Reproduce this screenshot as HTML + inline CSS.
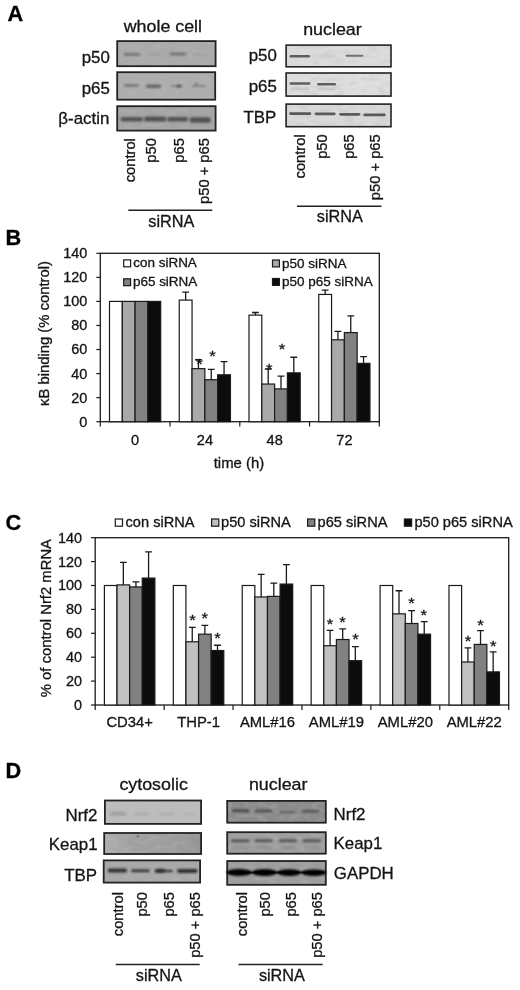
<!DOCTYPE html>
<html><head><meta charset="utf-8"><title>Figure</title>
<style>html,body{margin:0;padding:0;background:#fff;}svg{display:block;will-change:transform;}text{font-family:"Liberation Sans",sans-serif;}</style>
</head><body>
<svg width="520" height="990" viewBox="0 0 520 990">
<defs>
<filter id="b0" x="-20%" y="-150%" width="140%" height="400%"><feGaussianBlur stdDeviation="0.6"/></filter>
<filter id="b1" x="-20%" y="-150%" width="140%" height="400%"><feGaussianBlur stdDeviation="0.9"/></filter>
<filter id="b2" x="-20%" y="-150%" width="140%" height="400%"><feGaussianBlur stdDeviation="1.5"/></filter>
<filter id="gr" x="0" y="0" width="100%" height="100%"><feTurbulence type="fractalNoise" baseFrequency="0.09 0.22" numOctaves="2" seed="7" result="t"/><feColorMatrix in="t" type="matrix" values="0 0 0 0 0.5  0 0 0 0 0.5  0 0 0 0 0.5  0 0 0 2.2 -0.95"/></filter>
<linearGradient id="lg" x1="0" y1="0" x2="1" y2="0"><stop offset="0" stop-color="#fff" stop-opacity="0.16"/><stop offset="0.5" stop-color="#888" stop-opacity="0"/><stop offset="1" stop-color="#000" stop-opacity="0.07"/></linearGradient>
</defs>
<rect x="0" y="0" width="520" height="990" fill="#ffffff"/>
<g opacity="0.999">
<text transform="translate(7.6,21.0) scale(1.02,1)" font-size="21.3" font-weight="bold" fill="#000" stroke="#000" stroke-width="0.3">A</text>
<text transform="translate(5.5,245.2) scale(1.02,1)" font-size="21.3" font-weight="bold" fill="#000" stroke="#000" stroke-width="0.3">B</text>
<text transform="translate(5.6,530.0) scale(1.02,1)" font-size="21.3" font-weight="bold" fill="#000" stroke="#000" stroke-width="0.3">C</text>
<text transform="translate(5.5,777.5) scale(1.02,1)" font-size="21.3" font-weight="bold" fill="#000" stroke="#000" stroke-width="0.3">D</text>
<text transform="translate(123.7,31.8) scale(1.05,1)" font-size="17" fill="#141414" stroke="#141414" stroke-width="0.3">whole cell</text>
<text transform="translate(303.2,35.4) scale(1.05,1)" font-size="17" fill="#141414" stroke="#141414" stroke-width="0.3">nuclear</text>
<rect x="117.2" y="41.1" width="98.4" height="25.1" fill="#aaaaaa"/>
<rect x="117.2" y="41.1" width="98.4" height="25.1" filter="url(#gr)" opacity="0.4"/>
<rect x="117.2" y="41.1" width="98.4" height="25.1" fill="none" stroke="#222" stroke-width="1.8"/>
<rect x="117.2" y="72.2" width="98.0" height="27.5" fill="#adadad"/>
<rect x="117.2" y="72.2" width="98.0" height="27.5" filter="url(#gr)" opacity="0.4"/>
<rect x="117.2" y="72.2" width="98.0" height="27.5" fill="none" stroke="#222" stroke-width="1.8"/>
<rect x="117.2" y="106.2" width="98.4" height="24.4" fill="#a4a4a4"/>
<rect x="117.2" y="106.2" width="98.4" height="24.4" filter="url(#gr)" opacity="0.4"/>
<rect x="117.2" y="106.2" width="98.4" height="24.4" fill="none" stroke="#222" stroke-width="1.8"/>
<rect x="123.8" y="53.0" width="16.4" height="2.8" rx="1.4" fill="#5e5e5e" opacity="0.72" filter="url(#b1)"/>
<rect x="148" y="53.5" width="13" height="2.2" rx="1.1" fill="#888" opacity="0.5" filter="url(#b1)"/>
<rect x="169.6" y="52.6" width="16.6" height="2.8" rx="1.4" fill="#5e5e5e" opacity="0.72" filter="url(#b1)"/>
<rect x="193" y="53.6" width="14" height="2.0" rx="1.0" fill="#8e8e8e" opacity="0.4" filter="url(#b1)"/>
<rect x="124" y="84.5" width="15" height="2.0" rx="1.0" fill="#4e4e4e" opacity="0.75" filter="url(#b1)"/>
<rect x="146" y="84.7" width="15" height="3.0" rx="1.5" fill="#484848" opacity="0.8" filter="url(#b1)"/>
<rect x="170" y="85.2" width="13" height="1.6" rx="0.8" fill="#5a5a5a" opacity="0.6" filter="url(#b1)"/>
<rect x="176.5" y="84.8" width="4.5" height="2.4" rx="1.2" fill="#383838" opacity="0.75" filter="url(#b1)"/>
<rect x="192" y="85.2" width="13.5" height="1.6" rx="0.8" fill="#5a5a5a" opacity="0.65" filter="url(#b1)"/>
<rect x="195.3" y="82.8" width="2.3" height="2.4" rx="1.2" fill="#4c4c4c" opacity="0.65" filter="url(#b1)"/>
<rect x="120.5" y="117.1" width="22.7" height="4.4" rx="2.2" fill="#4c4c4c" opacity="0.9" filter="url(#b1)"/>
<rect x="144.0" y="116.4" width="22.2" height="5.2" rx="2.6" fill="#484848" opacity="0.9" filter="url(#b1)"/>
<rect x="167.0" y="117.0" width="21.2" height="4.6" rx="2.3" fill="#4c4c4c" opacity="0.9" filter="url(#b1)"/>
<rect x="189.6" y="117.3" width="21.2" height="5.4" rx="2.7" fill="#484848" opacity="0.9" filter="url(#b1)"/>
<text transform="translate(109.8,62.8) scale(1.03,1)" font-size="16.4" text-anchor="end" fill="#141414" stroke="#141414" stroke-width="0.3">p50</text>
<text transform="translate(109.8,93.7) scale(1.03,1)" font-size="16.4" text-anchor="end" fill="#141414" stroke="#141414" stroke-width="0.3">p65</text>
<text transform="translate(109.3,123.5) scale(1.03,1)" font-size="16.4" text-anchor="end" fill="#141414" stroke="#141414" stroke-width="0.3">β-actin</text>
<text transform="translate(134.9,138.1) rotate(-90) scale(1.03,1)" font-size="14.3" text-anchor="end" fill="#141414" stroke="#141414" stroke-width="0.3">control</text>
<text transform="translate(156.3,138.1) rotate(-90) scale(1.03,1)" font-size="14.3" text-anchor="end" fill="#141414" stroke="#141414" stroke-width="0.3">p50</text>
<text transform="translate(183.5,138.1) rotate(-90) scale(1.03,1)" font-size="14.3" text-anchor="end" fill="#141414" stroke="#141414" stroke-width="0.3">p65</text>
<text transform="translate(209.4,138.1) rotate(-90) scale(1.03,1)" font-size="14.3" text-anchor="end" fill="#141414" stroke="#141414" stroke-width="0.3">p50 + p65</text>
<line x1="128.3" y1="210.3" x2="212.3" y2="210.3" stroke="#222" stroke-width="1.4"/>
<text transform="translate(171.3,226.7) scale(1.03,1)" font-size="15.8" text-anchor="middle" fill="#141414" stroke="#141414" stroke-width="0.3">siRNA</text>
<rect x="286.1" y="45.1" width="104.9" height="21.7" fill="#dcdcdc"/>
<rect x="286.1" y="45.1" width="104.9" height="21.7" filter="url(#gr)" opacity="0.4"/>
<rect x="286.1" y="45.1" width="104.9" height="21.7" fill="none" stroke="#222" stroke-width="1.6"/>
<rect x="286.1" y="73.0" width="104.9" height="23.1" fill="#dedede"/>
<rect x="286.1" y="73.0" width="104.9" height="23.1" filter="url(#gr)" opacity="0.4"/>
<rect x="286.1" y="73.0" width="104.9" height="23.1" fill="none" stroke="#222" stroke-width="1.6"/>
<rect x="286.1" y="104.1" width="104.9" height="22.6" fill="#d9d9d9"/>
<rect x="286.1" y="104.1" width="104.9" height="22.6" filter="url(#gr)" opacity="0.4"/>
<rect x="286.1" y="104.1" width="104.9" height="22.6" fill="none" stroke="#222" stroke-width="1.6"/>
<rect x="289.5" y="55.1" width="20.5" height="2.4" rx="1.2" fill="#484848" opacity="0.85" filter="url(#b0)"/>
<rect x="319" y="55.3" width="17" height="1.8" rx="0.9" fill="#aaa" opacity="0.5" filter="url(#b1)"/>
<rect x="345.5" y="54.8" width="17.9" height="2.0" rx="1.0" fill="#585858" opacity="0.8" filter="url(#b0)"/>
<rect x="289.5" y="82.35" width="21.0" height="2.3" rx="1.15" fill="#4a4a4a" opacity="0.85" filter="url(#b0)"/>
<rect x="290" y="87.8" width="20" height="2" rx="1.0" fill="#aaa" opacity="0.6" filter="url(#b1)"/>
<rect x="317" y="83.05" width="19" height="2.5" rx="1.25" fill="#4a4a4a" opacity="0.85" filter="url(#b0)"/>
<rect x="318" y="88.0" width="17" height="2" rx="1.0" fill="#b0b0b0" opacity="0.6" filter="url(#b1)"/>
<rect x="289.2" y="112.3" width="22.0" height="2.8" rx="1.4" fill="#484848" opacity="0.88" filter="url(#b0)"/>
<rect x="314.6" y="112.5" width="21.0" height="2.8" rx="1.4" fill="#484848" opacity="0.88" filter="url(#b0)"/>
<rect x="339.2" y="112.9" width="21.0" height="2.8" rx="1.4" fill="#484848" opacity="0.88" filter="url(#b0)"/>
<rect x="363.4" y="113.5" width="22.3" height="2.8" rx="1.4" fill="#484848" opacity="0.88" filter="url(#b0)"/>
<text transform="translate(276.8,60.7) scale(1.03,1)" font-size="16.4" text-anchor="end" fill="#141414" stroke="#141414" stroke-width="0.3">p50</text>
<text transform="translate(276.8,91.9) scale(1.03,1)" font-size="16.4" text-anchor="end" fill="#141414" stroke="#141414" stroke-width="0.3">p65</text>
<text transform="translate(276.2,122.7) scale(1.03,1)" font-size="16.4" text-anchor="end" fill="#141414" stroke="#141414" stroke-width="0.3">TBP</text>
<text transform="translate(304.6,134.3) rotate(-90) scale(1.03,1)" font-size="14.3" text-anchor="end" fill="#141414" stroke="#141414" stroke-width="0.3">control</text>
<text transform="translate(327.0,134.3) rotate(-90) scale(1.03,1)" font-size="14.3" text-anchor="end" fill="#141414" stroke="#141414" stroke-width="0.3">p50</text>
<text transform="translate(353.8,134.3) rotate(-90) scale(1.03,1)" font-size="14.3" text-anchor="end" fill="#141414" stroke="#141414" stroke-width="0.3">p65</text>
<text transform="translate(379.6,134.3) rotate(-90) scale(1.03,1)" font-size="14.3" text-anchor="end" fill="#141414" stroke="#141414" stroke-width="0.3">p50 + p65</text>
<line x1="297" y1="206.2" x2="381.5" y2="206.2" stroke="#222" stroke-width="1.4"/>
<text transform="translate(339.8,222.4) scale(1.03,1)" font-size="15.8" text-anchor="middle" fill="#141414" stroke="#141414" stroke-width="0.3">siRNA</text>
<rect x="100.3" y="253.3" width="279.0" height="168.4" fill="#fff" stroke="#1a1a1a" stroke-width="1.3"/>
<line x1="96.3" y1="421.70" x2="100.3" y2="421.70" stroke="#1a1a1a" stroke-width="1.2"/>
<text transform="translate(87.2,426.63) scale(1.03,1)" font-size="14.0" text-anchor="end" fill="#141414" stroke="#141414" stroke-width="0.3">0</text>
<line x1="96.3" y1="397.64" x2="100.3" y2="397.64" stroke="#1a1a1a" stroke-width="1.2"/>
<text transform="translate(87.2,402.57) scale(1.03,1)" font-size="14.0" text-anchor="end" fill="#141414" stroke="#141414" stroke-width="0.3">20</text>
<line x1="96.3" y1="373.59" x2="100.3" y2="373.59" stroke="#1a1a1a" stroke-width="1.2"/>
<text transform="translate(87.2,378.51) scale(1.03,1)" font-size="14.0" text-anchor="end" fill="#141414" stroke="#141414" stroke-width="0.3">40</text>
<line x1="96.3" y1="349.53" x2="100.3" y2="349.53" stroke="#1a1a1a" stroke-width="1.2"/>
<text transform="translate(87.2,354.46) scale(1.03,1)" font-size="14.0" text-anchor="end" fill="#141414" stroke="#141414" stroke-width="0.3">60</text>
<line x1="96.3" y1="325.47" x2="100.3" y2="325.47" stroke="#1a1a1a" stroke-width="1.2"/>
<text transform="translate(87.2,330.4) scale(1.03,1)" font-size="14.0" text-anchor="end" fill="#141414" stroke="#141414" stroke-width="0.3">80</text>
<line x1="96.3" y1="301.41" x2="100.3" y2="301.41" stroke="#1a1a1a" stroke-width="1.2"/>
<text transform="translate(87.2,306.34) scale(1.03,1)" font-size="14.0" text-anchor="end" fill="#141414" stroke="#141414" stroke-width="0.3">100</text>
<line x1="96.3" y1="277.36" x2="100.3" y2="277.36" stroke="#1a1a1a" stroke-width="1.2"/>
<text transform="translate(87.2,282.29) scale(1.03,1)" font-size="14.0" text-anchor="end" fill="#141414" stroke="#141414" stroke-width="0.3">120</text>
<line x1="96.3" y1="253.30" x2="100.3" y2="253.30" stroke="#1a1a1a" stroke-width="1.2"/>
<text transform="translate(87.2,258.23) scale(1.03,1)" font-size="14.0" text-anchor="end" fill="#141414" stroke="#141414" stroke-width="0.3">140</text>
<line x1="100.30" y1="421.7" x2="100.30" y2="426.5" stroke="#1a1a1a" stroke-width="1.2"/>
<line x1="170.05" y1="421.7" x2="170.05" y2="426.5" stroke="#1a1a1a" stroke-width="1.2"/>
<line x1="239.80" y1="421.7" x2="239.80" y2="426.5" stroke="#1a1a1a" stroke-width="1.2"/>
<line x1="309.55" y1="421.7" x2="309.55" y2="426.5" stroke="#1a1a1a" stroke-width="1.2"/>
<line x1="379.30" y1="421.7" x2="379.30" y2="426.5" stroke="#1a1a1a" stroke-width="1.2"/>
<rect x="109.50" y="301.41" width="12.80" height="120.29" fill="#ffffff" stroke="#1a1a1a" stroke-width="1.2"/>
<rect x="122.30" y="301.41" width="12.80" height="120.29" fill="#a9a9a9" stroke="#1a1a1a" stroke-width="1.2"/>
<rect x="135.10" y="301.41" width="12.80" height="120.29" fill="#818181" stroke="#1a1a1a" stroke-width="1.2"/>
<rect x="147.90" y="301.41" width="12.80" height="120.29" fill="#0c0c0c" stroke="#1a1a1a" stroke-width="1.2"/>
<text transform="translate(135.18,445) scale(1.03,1)" font-size="14.2" text-anchor="middle" fill="#141414" stroke="#141414" stroke-width="0.3">0</text>
<path d="M185.65 300.09V292.15M182.25 292.15H189.05" stroke="#1a1a1a" stroke-width="1.3" fill="none"/>
<rect x="179.25" y="300.09" width="12.80" height="121.61" fill="#ffffff" stroke="#1a1a1a" stroke-width="1.2"/>
<path d="M198.45 368.65V359.75M195.05 359.75H201.85" stroke="#1a1a1a" stroke-width="1.3" fill="none"/>
<rect x="192.05" y="368.65" width="12.80" height="53.05" fill="#a9a9a9" stroke="#1a1a1a" stroke-width="1.2"/>
<text transform="translate(199.6,368.68) scale(1.08,1)" font-size="15.5" text-anchor="middle" fill="#141414" stroke="#141414" stroke-width="0.3">*</text>
<path d="M211.25 379.72V369.38M207.85 369.38H214.65" stroke="#1a1a1a" stroke-width="1.3" fill="none"/>
<rect x="204.85" y="379.72" width="12.80" height="41.98" fill="#818181" stroke="#1a1a1a" stroke-width="1.2"/>
<text transform="translate(212.4,361.28) scale(1.08,1)" font-size="15.5" text-anchor="middle" fill="#141414" stroke="#141414" stroke-width="0.3">*</text>
<path d="M224.05 374.79V361.56M220.65 361.56H227.45" stroke="#1a1a1a" stroke-width="1.3" fill="none"/>
<rect x="217.65" y="374.79" width="12.80" height="46.91" fill="#0c0c0c" stroke="#1a1a1a" stroke-width="1.2"/>
<text transform="translate(204.93,445) scale(1.03,1)" font-size="14.2" text-anchor="middle" fill="#141414" stroke="#141414" stroke-width="0.3">24</text>
<path d="M255.40 315.13V312.48M252.00 312.48H258.80" stroke="#1a1a1a" stroke-width="1.3" fill="none"/>
<rect x="249.00" y="315.13" width="12.80" height="106.57" fill="#ffffff" stroke="#1a1a1a" stroke-width="1.2"/>
<path d="M268.20 384.05V369.01M264.80 369.01H271.60" stroke="#1a1a1a" stroke-width="1.3" fill="none"/>
<rect x="261.80" y="384.05" width="12.80" height="37.65" fill="#a9a9a9" stroke="#1a1a1a" stroke-width="1.2"/>
<text transform="translate(269.2,373.98) scale(1.08,1)" font-size="15.5" text-anchor="middle" fill="#141414" stroke="#141414" stroke-width="0.3">*</text>
<path d="M281.00 388.86V376.11M277.60 376.11H284.40" stroke="#1a1a1a" stroke-width="1.3" fill="none"/>
<rect x="274.60" y="388.86" width="12.80" height="32.84" fill="#818181" stroke="#1a1a1a" stroke-width="1.2"/>
<text transform="translate(281.9,353.98) scale(1.08,1)" font-size="15.5" text-anchor="middle" fill="#141414" stroke="#141414" stroke-width="0.3">*</text>
<path d="M293.80 372.86V357.23M290.40 357.23H297.20" stroke="#1a1a1a" stroke-width="1.3" fill="none"/>
<rect x="287.40" y="372.86" width="12.80" height="48.84" fill="#0c0c0c" stroke="#1a1a1a" stroke-width="1.2"/>
<text transform="translate(274.68,445) scale(1.03,1)" font-size="14.2" text-anchor="middle" fill="#141414" stroke="#141414" stroke-width="0.3">48</text>
<path d="M325.15 294.44V290.11M321.75 290.11H328.55" stroke="#1a1a1a" stroke-width="1.3" fill="none"/>
<rect x="318.75" y="294.44" width="12.80" height="127.26" fill="#ffffff" stroke="#1a1a1a" stroke-width="1.2"/>
<path d="M337.95 339.79V331.37M334.55 331.37H341.35" stroke="#1a1a1a" stroke-width="1.3" fill="none"/>
<rect x="331.55" y="339.79" width="12.80" height="81.91" fill="#a9a9a9" stroke="#1a1a1a" stroke-width="1.2"/>
<path d="M350.75 332.57V315.97M347.35 315.97H354.15" stroke="#1a1a1a" stroke-width="1.3" fill="none"/>
<rect x="344.35" y="332.57" width="12.80" height="89.13" fill="#818181" stroke="#1a1a1a" stroke-width="1.2"/>
<path d="M363.55 363.36V356.63M360.15 356.63H366.95" stroke="#1a1a1a" stroke-width="1.3" fill="none"/>
<rect x="357.15" y="363.36" width="12.80" height="58.34" fill="#0c0c0c" stroke="#1a1a1a" stroke-width="1.2"/>
<text transform="translate(344.43,445) scale(1.03,1)" font-size="14.2" text-anchor="middle" fill="#141414" stroke="#141414" stroke-width="0.3">72</text>
<text transform="translate(239,467.5) scale(1.03,1)" font-size="14.5" text-anchor="middle" fill="#141414" stroke="#141414" stroke-width="0.3">time (h)</text>
<text transform="translate(48.9,333.5) rotate(-90) scale(1.03,1)" font-size="14.4" text-anchor="middle" fill="#141414" stroke="#141414" stroke-width="0.3">κB binding (% control)</text>
<rect x="123.69999999999999" y="259.90000000000003" width="6.8999999999999995" height="6.8999999999999995" fill="#ffffff" stroke="#1a1a1a" stroke-width="1.2"/>
<text transform="translate(133.2,267.4) scale(1.03,1)" font-size="13.1" fill="#141414" stroke="#141414" stroke-width="0.3">con siRNA</text>
<rect x="123.69999999999999" y="278.8" width="6.8999999999999995" height="6.8999999999999995" fill="#818181" stroke="#1a1a1a" stroke-width="1.2"/>
<text transform="translate(132.9,286.2) scale(1.03,1)" font-size="13.1" fill="#141414" stroke="#141414" stroke-width="0.3">p65 siRNA</text>
<rect x="272.5" y="260.0" width="6.8999999999999995" height="6.8999999999999995" fill="#a9a9a9" stroke="#1a1a1a" stroke-width="1.2"/>
<text transform="translate(282.1,267.6) scale(1.03,1)" font-size="13.1" fill="#141414" stroke="#141414" stroke-width="0.3">p50 siRNA</text>
<rect x="272.5" y="278.5" width="6.8999999999999995" height="6.8999999999999995" fill="#0c0c0c" stroke="#1a1a1a" stroke-width="1.2"/>
<text transform="translate(282.1,286.0) scale(1.03,1)" font-size="13.1" fill="#141414" stroke="#141414" stroke-width="0.3">p50 p65 siRNA</text>
<rect x="95.2" y="537.7" width="413.5" height="167.3" fill="#fff" stroke="#1a1a1a" stroke-width="1.3"/>
<line x1="91.0" y1="705.00" x2="95.2" y2="705.00" stroke="#1a1a1a" stroke-width="1.2"/>
<text transform="translate(82.1,709.93) scale(1.03,1)" font-size="14.0" text-anchor="end" fill="#141414" stroke="#141414" stroke-width="0.3">0</text>
<line x1="91.0" y1="681.10" x2="95.2" y2="681.10" stroke="#1a1a1a" stroke-width="1.2"/>
<text transform="translate(82.1,686.03) scale(1.03,1)" font-size="14.0" text-anchor="end" fill="#141414" stroke="#141414" stroke-width="0.3">20</text>
<line x1="91.0" y1="657.20" x2="95.2" y2="657.20" stroke="#1a1a1a" stroke-width="1.2"/>
<text transform="translate(82.1,662.13) scale(1.03,1)" font-size="14.0" text-anchor="end" fill="#141414" stroke="#141414" stroke-width="0.3">40</text>
<line x1="91.0" y1="633.30" x2="95.2" y2="633.30" stroke="#1a1a1a" stroke-width="1.2"/>
<text transform="translate(82.1,638.23) scale(1.03,1)" font-size="14.0" text-anchor="end" fill="#141414" stroke="#141414" stroke-width="0.3">60</text>
<line x1="91.0" y1="609.40" x2="95.2" y2="609.40" stroke="#1a1a1a" stroke-width="1.2"/>
<text transform="translate(82.1,614.33) scale(1.03,1)" font-size="14.0" text-anchor="end" fill="#141414" stroke="#141414" stroke-width="0.3">80</text>
<line x1="91.0" y1="585.50" x2="95.2" y2="585.50" stroke="#1a1a1a" stroke-width="1.2"/>
<text transform="translate(82.1,590.43) scale(1.03,1)" font-size="14.0" text-anchor="end" fill="#141414" stroke="#141414" stroke-width="0.3">100</text>
<line x1="91.0" y1="561.60" x2="95.2" y2="561.60" stroke="#1a1a1a" stroke-width="1.2"/>
<text transform="translate(82.1,566.53) scale(1.03,1)" font-size="14.0" text-anchor="end" fill="#141414" stroke="#141414" stroke-width="0.3">120</text>
<line x1="91.0" y1="537.70" x2="95.2" y2="537.70" stroke="#1a1a1a" stroke-width="1.2"/>
<text transform="translate(82.1,542.63) scale(1.03,1)" font-size="14.0" text-anchor="end" fill="#141414" stroke="#141414" stroke-width="0.3">140</text>
<line x1="95.20" y1="705.0" x2="95.20" y2="710.0" stroke="#1a1a1a" stroke-width="1.2"/>
<line x1="164.12" y1="705.0" x2="164.12" y2="710.0" stroke="#1a1a1a" stroke-width="1.2"/>
<line x1="233.03" y1="705.0" x2="233.03" y2="710.0" stroke="#1a1a1a" stroke-width="1.2"/>
<line x1="301.95" y1="705.0" x2="301.95" y2="710.0" stroke="#1a1a1a" stroke-width="1.2"/>
<line x1="370.87" y1="705.0" x2="370.87" y2="710.0" stroke="#1a1a1a" stroke-width="1.2"/>
<line x1="439.78" y1="705.0" x2="439.78" y2="710.0" stroke="#1a1a1a" stroke-width="1.2"/>
<line x1="508.70" y1="705.0" x2="508.70" y2="710.0" stroke="#1a1a1a" stroke-width="1.2"/>
<rect x="104.40" y="585.50" width="12.62" height="119.50" fill="#ffffff" stroke="#1a1a1a" stroke-width="1.2"/>
<path d="M123.33 584.90V562.44M119.93 562.44H126.73" stroke="#1a1a1a" stroke-width="1.3" fill="none"/>
<rect x="117.02" y="584.90" width="12.62" height="120.10" fill="#c1c1c1" stroke="#1a1a1a" stroke-width="1.2"/>
<path d="M135.95 586.93V581.92M132.55 581.92H139.35" stroke="#1a1a1a" stroke-width="1.3" fill="none"/>
<rect x="129.64" y="586.93" width="12.62" height="118.07" fill="#818181" stroke="#1a1a1a" stroke-width="1.2"/>
<path d="M148.57 578.09V551.80M145.17 551.80H151.97" stroke="#1a1a1a" stroke-width="1.3" fill="none"/>
<rect x="142.26" y="578.09" width="12.62" height="126.91" fill="#0c0c0c" stroke="#1a1a1a" stroke-width="1.2"/>
<text transform="translate(129.66,727.1) scale(1.03,1)" font-size="14.4" text-anchor="middle" fill="#141414" stroke="#141414" stroke-width="0.3">CD34+</text>
<rect x="173.32" y="585.50" width="12.62" height="119.50" fill="#ffffff" stroke="#1a1a1a" stroke-width="1.2"/>
<path d="M192.25 641.78V627.44M188.85 627.44H195.65" stroke="#1a1a1a" stroke-width="1.3" fill="none"/>
<rect x="185.94" y="641.78" width="12.62" height="63.22" fill="#c1c1c1" stroke="#1a1a1a" stroke-width="1.2"/>
<text transform="translate(192.5,625.48) scale(1.08,1)" font-size="15.5" text-anchor="middle" fill="#141414" stroke="#141414" stroke-width="0.3">*</text>
<path d="M204.87 634.14V625.29M201.47 625.29H208.27" stroke="#1a1a1a" stroke-width="1.3" fill="none"/>
<rect x="198.56" y="634.14" width="12.62" height="70.86" fill="#818181" stroke="#1a1a1a" stroke-width="1.2"/>
<text transform="translate(204.8,623.28) scale(1.08,1)" font-size="15.5" text-anchor="middle" fill="#141414" stroke="#141414" stroke-width="0.3">*</text>
<path d="M217.49 650.51V645.25M214.09 645.25H220.89" stroke="#1a1a1a" stroke-width="1.3" fill="none"/>
<rect x="211.18" y="650.51" width="12.62" height="54.49" fill="#0c0c0c" stroke="#1a1a1a" stroke-width="1.2"/>
<text transform="translate(217.4,642.68) scale(1.08,1)" font-size="15.5" text-anchor="middle" fill="#141414" stroke="#141414" stroke-width="0.3">*</text>
<text transform="translate(198.57,727.1) scale(1.03,1)" font-size="14.4" text-anchor="middle" fill="#141414" stroke="#141414" stroke-width="0.3">THP-1</text>
<rect x="242.23" y="585.50" width="12.62" height="119.50" fill="#ffffff" stroke="#1a1a1a" stroke-width="1.2"/>
<path d="M261.16 596.97V574.39M257.76 574.39H264.56" stroke="#1a1a1a" stroke-width="1.3" fill="none"/>
<rect x="254.85" y="596.97" width="12.62" height="108.03" fill="#c1c1c1" stroke="#1a1a1a" stroke-width="1.2"/>
<path d="M273.78 596.37V583.11M270.38 583.11H277.18" stroke="#1a1a1a" stroke-width="1.3" fill="none"/>
<rect x="267.47" y="596.37" width="12.62" height="108.63" fill="#818181" stroke="#1a1a1a" stroke-width="1.2"/>
<path d="M286.40 584.07V564.71M283.00 564.71H289.80" stroke="#1a1a1a" stroke-width="1.3" fill="none"/>
<rect x="280.09" y="584.07" width="12.62" height="120.93" fill="#0c0c0c" stroke="#1a1a1a" stroke-width="1.2"/>
<text transform="translate(267.49,727.1) scale(1.03,1)" font-size="14.4" text-anchor="middle" fill="#141414" stroke="#141414" stroke-width="0.3">AML#16</text>
<rect x="311.15" y="585.50" width="12.62" height="119.50" fill="#ffffff" stroke="#1a1a1a" stroke-width="1.2"/>
<path d="M330.08 645.73V630.31M326.68 630.31H333.48" stroke="#1a1a1a" stroke-width="1.3" fill="none"/>
<rect x="323.77" y="645.73" width="12.62" height="59.27" fill="#c1c1c1" stroke="#1a1a1a" stroke-width="1.2"/>
<text transform="translate(330.1,628.78) scale(1.08,1)" font-size="15.5" text-anchor="middle" fill="#141414" stroke="#141414" stroke-width="0.3">*</text>
<path d="M342.70 639.51V628.88M339.30 628.88H346.10" stroke="#1a1a1a" stroke-width="1.3" fill="none"/>
<rect x="336.39" y="639.51" width="12.62" height="65.49" fill="#818181" stroke="#1a1a1a" stroke-width="1.2"/>
<text transform="translate(342.4,626.58) scale(1.08,1)" font-size="15.5" text-anchor="middle" fill="#141414" stroke="#141414" stroke-width="0.3">*</text>
<path d="M355.32 660.67V646.56M351.92 646.56H358.72" stroke="#1a1a1a" stroke-width="1.3" fill="none"/>
<rect x="349.01" y="660.67" width="12.62" height="44.33" fill="#0c0c0c" stroke="#1a1a1a" stroke-width="1.2"/>
<text transform="translate(355.5,644.48) scale(1.08,1)" font-size="15.5" text-anchor="middle" fill="#141414" stroke="#141414" stroke-width="0.3">*</text>
<text transform="translate(336.41,727.1) scale(1.03,1)" font-size="14.4" text-anchor="middle" fill="#141414" stroke="#141414" stroke-width="0.3">AML#19</text>
<rect x="380.07" y="585.50" width="12.62" height="119.50" fill="#ffffff" stroke="#1a1a1a" stroke-width="1.2"/>
<path d="M399.00 613.82V590.76M395.60 590.76H402.40" stroke="#1a1a1a" stroke-width="1.3" fill="none"/>
<rect x="392.69" y="613.82" width="12.62" height="91.18" fill="#c1c1c1" stroke="#1a1a1a" stroke-width="1.2"/>
<path d="M411.62 623.50V610.60M408.22 610.60H415.02" stroke="#1a1a1a" stroke-width="1.3" fill="none"/>
<rect x="405.31" y="623.50" width="12.62" height="81.50" fill="#818181" stroke="#1a1a1a" stroke-width="1.2"/>
<text transform="translate(411.4,608.38) scale(1.08,1)" font-size="15.5" text-anchor="middle" fill="#141414" stroke="#141414" stroke-width="0.3">*</text>
<path d="M424.24 634.14V621.71M420.84 621.71H427.64" stroke="#1a1a1a" stroke-width="1.3" fill="none"/>
<rect x="417.93" y="634.14" width="12.62" height="70.86" fill="#0c0c0c" stroke="#1a1a1a" stroke-width="1.2"/>
<text transform="translate(423.7,619.88) scale(1.08,1)" font-size="15.5" text-anchor="middle" fill="#141414" stroke="#141414" stroke-width="0.3">*</text>
<text transform="translate(405.32,727.1) scale(1.03,1)" font-size="14.4" text-anchor="middle" fill="#141414" stroke="#141414" stroke-width="0.3">AML#20</text>
<rect x="448.98" y="585.50" width="12.62" height="119.50" fill="#ffffff" stroke="#1a1a1a" stroke-width="1.2"/>
<path d="M467.91 661.98V647.88M464.51 647.88H471.31" stroke="#1a1a1a" stroke-width="1.3" fill="none"/>
<rect x="461.60" y="661.98" width="12.62" height="43.02" fill="#c1c1c1" stroke="#1a1a1a" stroke-width="1.2"/>
<text transform="translate(468.1,645.88) scale(1.08,1)" font-size="15.5" text-anchor="middle" fill="#141414" stroke="#141414" stroke-width="0.3">*</text>
<path d="M480.53 644.41V630.67M477.13 630.67H483.93" stroke="#1a1a1a" stroke-width="1.3" fill="none"/>
<rect x="474.22" y="644.41" width="12.62" height="60.59" fill="#818181" stroke="#1a1a1a" stroke-width="1.2"/>
<text transform="translate(480.4,629.98) scale(1.08,1)" font-size="15.5" text-anchor="middle" fill="#141414" stroke="#141414" stroke-width="0.3">*</text>
<path d="M493.15 671.90V651.94M489.75 651.94H496.55" stroke="#1a1a1a" stroke-width="1.3" fill="none"/>
<rect x="486.84" y="671.90" width="12.62" height="33.10" fill="#0c0c0c" stroke="#1a1a1a" stroke-width="1.2"/>
<text transform="translate(493.2,650.68) scale(1.08,1)" font-size="15.5" text-anchor="middle" fill="#141414" stroke="#141414" stroke-width="0.3">*</text>
<text transform="translate(474.24,727.1) scale(1.03,1)" font-size="14.4" text-anchor="middle" fill="#141414" stroke="#141414" stroke-width="0.3">AML#22</text>
<text transform="translate(50.9,618.1) rotate(-90) scale(1.03,1)" font-size="14.4" text-anchor="middle" fill="#141414" stroke="#141414" stroke-width="0.3">% of control Nrf2 mRNA</text>
<rect x="115.3" y="519.0" width="7.2" height="7.2" fill="#ffffff" stroke="#1a1a1a" stroke-width="1.2"/>
<text transform="translate(125.5,526.9) scale(1.03,1)" font-size="14.2" fill="#141414" stroke="#141414" stroke-width="0.3">con siRNA</text>
<rect x="211.6" y="519.0" width="7.2" height="7.2" fill="#c1c1c1" stroke="#1a1a1a" stroke-width="1.2"/>
<text transform="translate(221.0,526.9) scale(1.03,1)" font-size="14.2" fill="#141414" stroke="#141414" stroke-width="0.3">p50 siRNA</text>
<rect x="307.6" y="519.0" width="7.2" height="7.2" fill="#818181" stroke="#1a1a1a" stroke-width="1.2"/>
<text transform="translate(317.6,526.9) scale(1.03,1)" font-size="14.2" fill="#141414" stroke="#141414" stroke-width="0.3">p65 siRNA</text>
<rect x="404.40000000000003" y="519.0" width="7.2" height="7.2" fill="#0c0c0c" stroke="#1a1a1a" stroke-width="1.2"/>
<text transform="translate(414.4,526.9) scale(1.03,1)" font-size="14.2" fill="#141414" stroke="#141414" stroke-width="0.3">p50 p65 siRNA</text>
<text transform="translate(119.4,789.8) scale(1.05,1)" font-size="17" fill="#141414" stroke="#141414" stroke-width="0.3">cytosolic</text>
<text transform="translate(248.9,789.8) scale(1.05,1)" font-size="17" fill="#141414" stroke="#141414" stroke-width="0.3">nuclear</text>
<rect x="104.9" y="800.5" width="96.2" height="23.4" fill="#bdbdbd"/>
<rect x="104.9" y="800.5" width="96.2" height="23.4" filter="url(#gr)" opacity="0.4"/>
<rect x="104.9" y="800.5" width="96.2" height="23.4" fill="none" stroke="#222" stroke-width="1.8"/>
<rect x="104.2" y="833.0" width="96.9" height="21.0" fill="#9f9f9f"/>
<rect x="104.2" y="833.0" width="96.9" height="21.0" filter="url(#gr)" opacity="0.4"/>
<rect x="104.2" y="833.0" width="96.9" height="21.0" fill="none" stroke="#222" stroke-width="1.8"/>
<rect x="103.7" y="860.4" width="96.4" height="22.2" fill="#a8a8a8"/>
<rect x="103.7" y="860.4" width="96.4" height="22.2" filter="url(#gr)" opacity="0.4"/>
<rect x="103.7" y="860.4" width="96.4" height="22.2" fill="none" stroke="#222" stroke-width="1.8"/>
<rect x="105.1" y="833.9" width="95.1" height="19.2" fill="url(#lg)"/>
<rect x="110" y="812.3" width="16" height="3" rx="1.5" fill="#8a8a8a" opacity="0.8" filter="url(#b2)"/>
<rect x="135" y="812.9" width="14" height="2.6" rx="1.3" fill="#999" opacity="0.6" filter="url(#b2)"/>
<rect x="159" y="812.8" width="15" height="2.4" rx="1.2" fill="#999" opacity="0.5" filter="url(#b2)"/>
<rect x="183" y="812.9" width="14" height="2.2" rx="1.1" fill="#a0a0a0" opacity="0.4" filter="url(#b2)"/>
<rect x="136.3" y="834.9" width="3.0" height="2.6" rx="1.3" fill="#707070" opacity="0.75" filter="url(#b0)"/>
<rect x="107.7" y="868.5" width="19.3" height="4" rx="2.0" fill="#2c2c2c" opacity="0.95" filter="url(#b1)"/>
<rect x="131" y="869.3" width="19" height="3" rx="1.5" fill="#333" opacity="0.9" filter="url(#b1)"/>
<rect x="154.6" y="869.8" width="18.4" height="2.4" rx="1.2" fill="#333" opacity="0.9" filter="url(#b1)"/>
<rect x="155.5" y="869.1" width="9.5" height="3.4" rx="1.7" fill="#2c2c2c" opacity="0.9" filter="url(#b1)"/>
<rect x="177" y="869.0" width="20.7" height="4" rx="2.0" fill="#2c2c2c" opacity="0.95" filter="url(#b1)"/>
<text transform="translate(97.4,820.8) scale(1.03,1)" font-size="16.4" text-anchor="end" fill="#141414" stroke="#141414" stroke-width="0.3">Nrf2</text>
<text transform="translate(97.6,850.2) scale(1.03,1)" font-size="16.4" text-anchor="end" fill="#141414" stroke="#141414" stroke-width="0.3">Keap1</text>
<text transform="translate(97.0,881.1) scale(1.03,1)" font-size="16.4" text-anchor="end" fill="#141414" stroke="#141414" stroke-width="0.3">TBP</text>
<text transform="translate(123.1,892.0) rotate(-90) scale(1.03,1)" font-size="14.3" text-anchor="end" fill="#141414" stroke="#141414" stroke-width="0.3">control</text>
<text transform="translate(147.3,892.0) rotate(-90) scale(1.03,1)" font-size="14.3" text-anchor="end" fill="#141414" stroke="#141414" stroke-width="0.3">p50</text>
<text transform="translate(173.8,892.0) rotate(-90) scale(1.03,1)" font-size="14.3" text-anchor="end" fill="#141414" stroke="#141414" stroke-width="0.3">p65</text>
<text transform="translate(199.9,892.0) rotate(-90) scale(1.03,1)" font-size="14.3" text-anchor="end" fill="#141414" stroke="#141414" stroke-width="0.3">p50 + p65</text>
<line x1="115.7" y1="964.5" x2="199.7" y2="964.5" stroke="#222" stroke-width="1.4"/>
<text transform="translate(158.8,980.8) scale(1.03,1)" font-size="15.8" text-anchor="middle" fill="#141414" stroke="#141414" stroke-width="0.3">siRNA</text>
<rect x="227.2" y="800.9" width="98.6" height="21.8" fill="#8b8b8b"/>
<rect x="227.2" y="800.9" width="98.6" height="21.8" filter="url(#gr)" opacity="0.4"/>
<rect x="227.2" y="800.9" width="98.6" height="21.8" fill="none" stroke="#222" stroke-width="1.8"/>
<rect x="227.2" y="832.2" width="98.6" height="21.5" fill="#9e9e9e"/>
<rect x="227.2" y="832.2" width="98.6" height="21.5" filter="url(#gr)" opacity="0.4"/>
<rect x="227.2" y="832.2" width="98.6" height="21.5" fill="none" stroke="#222" stroke-width="1.8"/>
<rect x="227.2" y="861.0" width="98.6" height="23.8" fill="#9c9c9c"/>
<rect x="227.2" y="861.0" width="98.6" height="23.8" filter="url(#gr)" opacity="0.4"/>
<rect x="227.2" y="861.0" width="98.6" height="23.8" fill="none" stroke="#222" stroke-width="1.8"/>
<rect x="231.5" y="809.3" width="18.0" height="3" rx="1.5" fill="#3c3c3c" opacity="0.8" filter="url(#b1)"/>
<rect x="254.6" y="809.4" width="18.0" height="2.8" rx="1.4" fill="#404040" opacity="0.8" filter="url(#b1)"/>
<rect x="279.5" y="810.9" width="16.2" height="2.2" rx="1.1" fill="#444" opacity="0.75" filter="url(#b1)"/>
<rect x="302" y="810.0" width="17.7" height="2.6" rx="1.3" fill="#404040" opacity="0.8" filter="url(#b1)"/>
<rect x="231" y="839.3" width="18.5" height="3.0" rx="1.5" fill="#484848" opacity="0.85" filter="url(#b1)"/>
<rect x="232" y="846.7" width="16.5" height="2.2" rx="1.1" fill="#7c7c7c" opacity="0.6" filter="url(#b2)"/>
<rect x="254.5" y="839.3" width="18.5" height="3.0" rx="1.5" fill="#484848" opacity="0.85" filter="url(#b1)"/>
<rect x="255.5" y="846.7" width="16.5" height="2.2" rx="1.1" fill="#7c7c7c" opacity="0.6" filter="url(#b2)"/>
<rect x="279" y="839.3" width="18" height="3.0" rx="1.5" fill="#484848" opacity="0.85" filter="url(#b1)"/>
<rect x="280" y="846.7" width="16" height="2.2" rx="1.1" fill="#7c7c7c" opacity="0.6" filter="url(#b2)"/>
<rect x="302.5" y="839.3" width="18.5" height="3.0" rx="1.5" fill="#484848" opacity="0.85" filter="url(#b1)"/>
<rect x="303.5" y="846.7" width="16.5" height="2.2" rx="1.1" fill="#7c7c7c" opacity="0.6" filter="url(#b2)"/>
<rect x="228" y="871.6" width="97" height="2.0" rx="1.0" fill="#181818" opacity="0.9" filter="url(#b0)"/>
<ellipse cx="239.05" cy="872.5" rx="12.45" ry="3.4" fill="#060606" opacity="1" filter="url(#b1)"/>
<ellipse cx="264.5" cy="872.5" rx="12.3" ry="3.6" fill="#060606" opacity="1" filter="url(#b1)"/>
<ellipse cx="289.0" cy="872.6" rx="12.0" ry="3.3" fill="#060606" opacity="1" filter="url(#b1)"/>
<ellipse cx="313.9" cy="872.7" rx="12.3" ry="3.3" fill="#060606" opacity="1" filter="url(#b1)"/>
<text transform="translate(333.6,820.4) scale(1.03,1)" font-size="16.4" fill="#141414" stroke="#141414" stroke-width="0.3">Nrf2</text>
<text transform="translate(333.6,849.4) scale(1.03,1)" font-size="16.4" fill="#141414" stroke="#141414" stroke-width="0.3">Keap1</text>
<text transform="translate(333.8,879.3) scale(1.03,1)" font-size="16.4" fill="#141414" stroke="#141414" stroke-width="0.3">GAPDH</text>
<text transform="translate(246.5,892.0) rotate(-90) scale(1.03,1)" font-size="14.3" text-anchor="end" fill="#141414" stroke="#141414" stroke-width="0.3">control</text>
<text transform="translate(269.6,892.0) rotate(-90) scale(1.03,1)" font-size="14.3" text-anchor="end" fill="#141414" stroke="#141414" stroke-width="0.3">p50</text>
<text transform="translate(295.7,892.0) rotate(-90) scale(1.03,1)" font-size="14.3" text-anchor="end" fill="#141414" stroke="#141414" stroke-width="0.3">p65</text>
<text transform="translate(321.5,892.0) rotate(-90) scale(1.03,1)" font-size="14.3" text-anchor="end" fill="#141414" stroke="#141414" stroke-width="0.3">p50 + p65</text>
<line x1="238.5" y1="964.5" x2="322.7" y2="964.5" stroke="#222" stroke-width="1.4"/>
<text transform="translate(281.9,980.8) scale(1.03,1)" font-size="15.8" text-anchor="middle" fill="#141414" stroke="#141414" stroke-width="0.3">siRNA</text>
</g>
</svg>
</body></html>
